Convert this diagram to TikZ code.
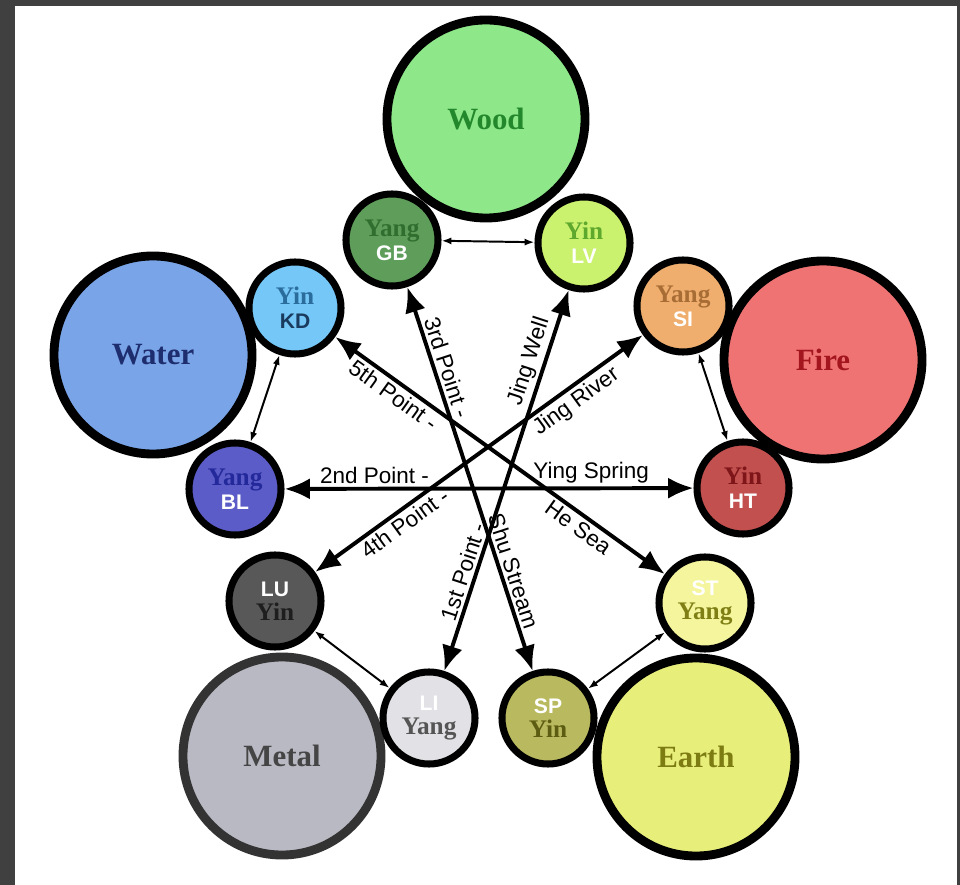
\documentclass[tikz,border=0pt]{standalone}
\usepackage{fontspec}
\setmainfont{Liberation Serif}
\setsansfont{Liberation Sans}
\usetikzlibrary{arrows.meta}
\definecolor{frame}{HTML}{404040}
\definecolor{woodfill}{HTML}{8EE88A}
\definecolor{woodtxt}{HTML}{23872B}
\definecolor{firefill}{HTML}{F07373}
\definecolor{firetxt}{HTML}{A3161E}
\definecolor{earthfill}{HTML}{E8EE7A}
\definecolor{earthtxt}{HTML}{7C7C12}
\definecolor{metalfill}{HTML}{B9B9C3}
\definecolor{metaltxt}{HTML}{454545}
\definecolor{waterfill}{HTML}{79A5E8}
\definecolor{watertxt}{HTML}{1E2D6E}
\definecolor{gbfill}{HTML}{5E9E5A}
\definecolor{gbtxt}{HTML}{2F6E2F}
\definecolor{lvfill}{HTML}{CBF26E}
\definecolor{lvtxt}{HTML}{5EA82E}
\definecolor{sifill}{HTML}{EFAE6E}
\definecolor{sitxt}{HTML}{A86D35}
\definecolor{htfill}{HTML}{C2504F}
\definecolor{httxt}{HTML}{7E1518}
\definecolor{stfill}{HTML}{F5F59E}
\definecolor{sttxt}{HTML}{7F7F15}
\definecolor{spfill}{HTML}{B9B95F}
\definecolor{sptxt}{HTML}{5C5C12}
\definecolor{lifill}{HTML}{E1E1E6}
\definecolor{litxt}{HTML}{555555}
\definecolor{lufill}{HTML}{585858}
\definecolor{lutxt}{HTML}{1E1E1E}
\definecolor{kdfill}{HTML}{74C7F6}
\definecolor{kdtxt}{HTML}{2A6C9C}
\definecolor{kdtag}{HTML}{1A3A5E}
\definecolor{blfill}{HTML}{5C5CC8}
\definecolor{bltxt}{HTML}{23299A}
\newcommand{\organtag}[2]{{\color{#1}\sffamily\bfseries\fontsize{15}{15}\selectfont #2}}

\begin{document}
\begin{tikzpicture}[x=0.025cm, y=-0.025cm,
  element/.style={circle, draw=black, line width=6.3pt, minimum size=4.95cm,
    inner sep=0pt, font=\fontsize{22}{22}\selectfont\bfseries},
  organ/.style={circle, draw=black, line width=5pt, minimum size=2.3cm,
    inner sep=0pt, align=center, font=\fontsize{18}{17}\selectfont\bfseries},
  meridian/.style={line width=2.8pt,
    {Latex[length=18pt,width=15pt]}-{Latex[length=18pt,width=15pt]}},
  pair/.style={line width=1.4pt,
    {Latex[length=7pt,width=5pt]}-{Latex[length=7pt,width=5pt]}},
  lbl/.style={font=\sffamily\fontsize{16}{16}\selectfont, sloped, inner sep=2pt}]
  \useasboundingbox (0,0) rectangle (960,885);
  \fill[frame] (0,0) rectangle (960,885);
  \fill[white] (15,6) rectangle (957,885);
  % the five elements
  \node[element, fill=woodfill, text=woodtxt] (wood) at (486,119) {Wood};
  \node[element, fill=firefill, text=firetxt] (fire) at (823,360) {Fire};
  \node[element, fill=earthfill, text=earthtxt] (earth) at (696,757) {Earth};
  \node[element, fill=metalfill, draw=black!80, text=metaltxt] (metal) at (282,756) {Metal};
  \node[element, fill=waterfill, text=watertxt] (water) at (153,355) {Water};
  % yin / yang organs
  \node[organ, fill=gbfill] (gb) at (392,240) {\color{gbtxt}Yang\\\organtag{white}{GB}};
  \node[organ, fill=lvfill] (lv) at (584,243) {\color{lvtxt}Yin\\\organtag{white}{LV}};
  \node[organ, fill=sifill] (si) at (683,306) {\color{sitxt}Yang\\\organtag{white}{SI}};
  \node[organ, fill=htfill] (ht) at (743,488) {\color{httxt}Yin\\\organtag{white}{HT}};
  \node[organ, fill=stfill] (st) at (705,603) {\organtag{white}{ST}\\\color{sttxt}Yang};
  \node[organ, fill=spfill] (sp) at (548,718) {\organtag{white}{SP}\\\color{sptxt}Yin};
  \node[organ, fill=lifill] (li) at (429,718) {\organtag{white}{LI}\\\color{litxt}Yang};
  \node[organ, fill=lufill] (lu) at (275,601) {\organtag{white}{LU}\\\color{lutxt}Yin};
  \node[organ, fill=blfill] (bl) at (235,489) {\color{bltxt}Yang\\\organtag{white}{BL}};
  \node[organ, fill=kdfill] (kd) at (295,308) {\color{kdtxt}Yin\\\organtag{kdtag}{KD}};
  % pairs
  \draw[pair] (gb) -- (lv);
  \draw[pair] (kd) -- (bl);
  \draw[pair] (si) -- (ht);
  \draw[pair] (st) -- (sp);
  \draw[pair] (lu) -- (li);
  % points
  \draw[meridian] (bl) -- node[lbl, above, pos=.22] {2nd Point -}
    node[lbl, above, pos=.75] {Ying Spring} (ht);
  \draw[meridian] (gb) -- node[lbl, above, pos=.22] {3rd Point -}
    node[lbl, above, pos=.75] {Shu Stream} (sp);
  \draw[meridian] (lv) -- node[lbl, above, pos=.2] {Jing Well}
    node[lbl, above, pos=.75] {1st Point -} (li);
  \draw[meridian] (si) -- node[lbl, below, pos=.23] {Jing River}
    node[lbl, below, pos=.75] {4th Point -} (lu);
  \draw[meridian] (kd) -- node[lbl, below, pos=.2] {5th Point -}
    node[lbl, below, pos=.76] {He Sea} (st);
\end{tikzpicture}
\end{document}
